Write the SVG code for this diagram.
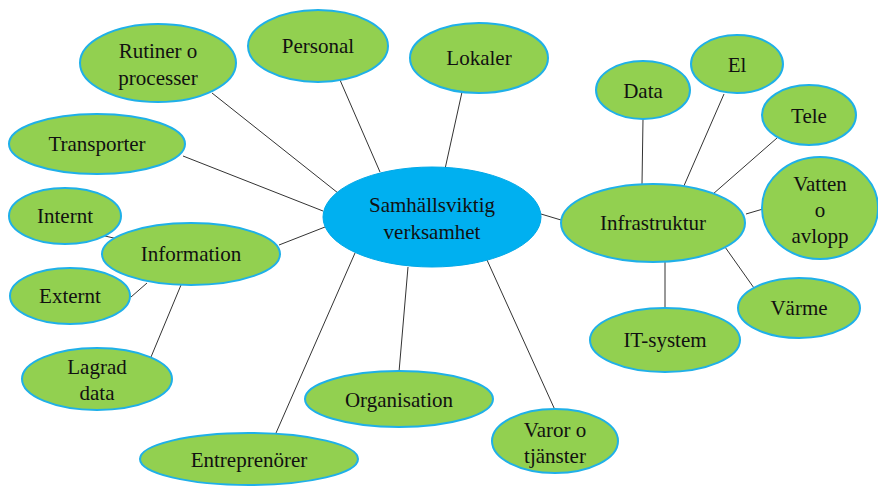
<svg xmlns="http://www.w3.org/2000/svg" width="878" height="489" viewBox="0 0 878 489">
<style>
.n{fill:#92D050;stroke:#1FB0E8;stroke-width:2}
.c{fill:#00B0F0;stroke:#00A8E8;stroke-width:1}
text{font-family:'Liberation Serif','Times New Roman','DejaVu Serif',serif;font-size:21px;fill:#111;text-anchor:middle}
.l{stroke:#333;stroke-width:1;fill:none}
</style>
<rect width="878" height="489" fill="#fff"/>
<g id="connectors">
<line class="l" x1="212" y1="93" x2="338" y2="193"/>
<line class="l" x1="340" y1="80" x2="380" y2="172"/>
<line class="l" x1="462" y1="92" x2="445" y2="169"/>
<line class="l" x1="183" y1="156" x2="323" y2="211"/>
<line class="l" x1="279" y1="245" x2="325" y2="227"/>
<line class="l" x1="105" y1="236" x2="118" y2="239"/>
<line class="l" x1="131" y1="297" x2="147" y2="283"/>
<line class="l" x1="151" y1="357" x2="181" y2="285"/>
<line class="l" x1="276" y1="433" x2="355" y2="253"/>
<line class="l" x1="399" y1="372" x2="408" y2="267"/>
<line class="l" x1="555" y1="410" x2="487" y2="260"/>
<line class="l" x1="541" y1="214" x2="561" y2="220"/>
<line class="l" x1="643" y1="119" x2="642" y2="184"/>
<line class="l" x1="724" y1="94" x2="683" y2="188"/>
<line class="l" x1="777" y1="138" x2="713" y2="194"/>
<line class="l" x1="763" y1="209" x2="746" y2="214"/>
<line class="l" x1="665" y1="308" x2="665" y2="262"/>
<line class="l" x1="754" y1="288" x2="725" y2="247"/>
</g>
<g id="center"><ellipse class="c" cx="432" cy="217" rx="109" ry="50"/><text x="432" y="212">Samhällsviktig</text><text x="432" y="239">verksamhet</text></g>
<g id="rutiner"><ellipse class="n" cx="158" cy="63" rx="78" ry="39"/><text x="158" y="58">Rutiner o</text><text x="158" y="85">processer</text></g>
<g id="personal"><ellipse class="n" cx="318" cy="46" rx="70" ry="36"/><text x="318" y="53">Personal</text></g>
<g id="lokaler"><ellipse class="n" cx="479" cy="58" rx="69" ry="35"/><text x="479" y="65">Lokaler</text></g>
<g id="transporter"><ellipse class="n" cx="97" cy="144" rx="88" ry="30"/><text x="97" y="151">Transporter</text></g>
<g id="internt"><ellipse class="n" cx="65" cy="216" rx="56" ry="28"/><text x="65" y="223">Internt</text></g>
<g id="information"><ellipse class="n" cx="191" cy="254" rx="89" ry="31"/><text x="191" y="261">Information</text></g>
<g id="externt"><ellipse class="n" cx="70" cy="296" rx="60" ry="28"/><text x="70" y="303">Externt</text></g>
<g id="lagrad"><ellipse class="n" cx="97" cy="379" rx="75" ry="31"/><text x="97" y="374">Lagrad</text><text x="97" y="400">data</text></g>
<g id="entreprenorer"><ellipse class="n" cx="249" cy="459" rx="109" ry="26"/><text x="249" y="467">Entreprenörer</text></g>
<g id="organisation"><ellipse class="n" cx="399" cy="399" rx="94" ry="28"/><text x="399" y="407">Organisation</text></g>
<g id="varor"><ellipse class="n" cx="555" cy="441" rx="63" ry="32"/><text x="555" y="437">Varor o</text><text x="555" y="463">tjänster</text></g>
<g id="infrastruktur"><ellipse class="n" cx="653" cy="223" rx="92" ry="39"/><text x="653" y="230">Infrastruktur</text></g>
<g id="data"><ellipse class="n" cx="643" cy="90" rx="47" ry="29"/><text x="643" y="98">Data</text></g>
<g id="el"><ellipse class="n" cx="737" cy="64" rx="46" ry="29"/><text x="737" y="72">El</text></g>
<g id="tele"><ellipse class="n" cx="809" cy="115" rx="47" ry="30"/><text x="809" y="123">Tele</text></g>
<g id="vatten"><ellipse class="n" cx="820" cy="208" rx="58" ry="51"/><text x="820" y="191">Vatten</text><text x="820" y="217">o</text><text x="820" y="243">avlopp</text></g>
<g id="itsystem"><ellipse class="n" cx="665" cy="340" rx="75" ry="32"/><text x="665" y="347">IT-system</text></g>
<g id="varme"><ellipse class="n" cx="799" cy="308" rx="61" ry="30"/><text x="799" y="315">Värme</text></g>
</svg>
